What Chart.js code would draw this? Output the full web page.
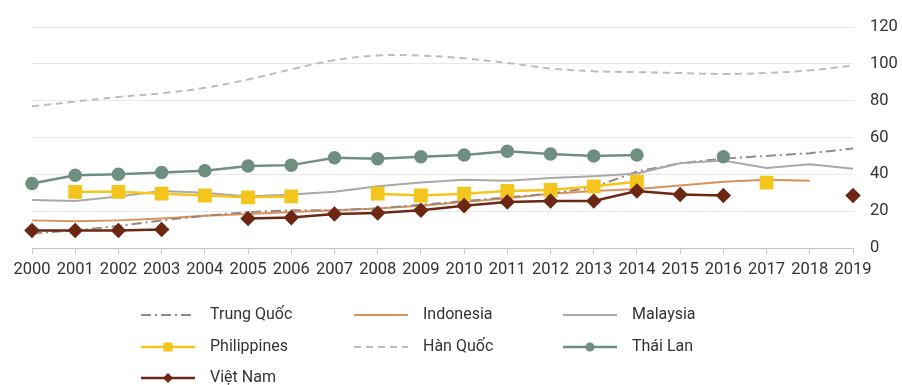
<!DOCTYPE html>
<html>
<head>
<meta charset="utf-8">
<script src="https://cdn.jsdelivr.net/npm/chart.js"></script>
<style>
  body { margin: 0; background: #fff; }
  canvas { display: block; }
</style>
</head>
<body>
<canvas id="chart" width="902" height="385"></canvas>
<script>
const years = ['2000', '2001', '2002', '2003', '2004', '2005', '2006', '2007', '2008', '2009',
               '2010', '2011', '2012', '2013', '2014', '2015', '2016', '2017', '2018', '2019'];

const trungQuoc   = [8, 9.5, 12, 15, 17.5, 19.5, 20.5, 20.5, 21.5, 23.5, 25.5, 27.5, 29.5, 33, 41.5, 46, 48.5, 50, 51.5, 54];
const indonesia   = [15, 14.5, 15, 16, 17.5, 18.5, 19.5, 20.5, 21.5, 23, 25, 27, 29.5, 31, 32, 34, 36, 37, 36.5, null];
const malaysia    = [26, 25.5, 28, 31, 30, 28, 29, 30.5, 33.5, 35.5, 37, 36.5, 38, 39, 40.5, 46, 47.5, 43.5, 45.5, 43];
const philippines = [null, 30.5, 30.5, 29.5, 28.5, 27.5, 28, null, 29.5, 28.5, 29.5, 31, 31.5, 33.5, 36, null, null, 35.5, null, null];
const hanQuoc     = [77, 79.5, 82, 84, 87, 91.5, 97, 102, 104.5, 104.5, 103, 100.5, 97.5, 96, 95.5, 95, 94.5, 95, 96.5, 99];
const thaiLan     = [35, 39.5, 40, 41, 42, 44.5, 45, 49, 48.5, 49.5, 50.5, 52.5, 51, 50, 50.5, null, 49.5, null, null, null];
const vietNam     = [9.5, 9.5, 9.5, 10, null, 16, 16.5, 18.5, 19, 20.5, 23, 25, 25.5, 25.5, 31, 29, 28.5, null, null, 28.5];

const yTicks = [0, 20, 40, 60, 80, 100, 120];

// legend layout: 3 columns
const legendColX = [141, 354, 563];
const legendRowY = [315, 347, 378];

function series(label, data, color, extra) {
    return Object.assign({
        label: label,
        data: data,
        borderColor: color,
        backgroundColor: color,
        borderWidth: 2,
        pointRadius: 0,
        pointHoverRadius: 0,
        pointStyle: false,
        tension: 0,
        spanGaps: false,
        fill: false
    }, extra || {});
}

const datasets = [
    series('Trung Quốc', trungQuoc, '#9a8880', { borderDash: [10, 4, 2, 4], order: 5 }),
    series('Indonesia', indonesia, '#da925c', { order: 6 }),
    series('Malaysia', malaysia, '#a9a9a9', { order: 4 }),
    series('Philippines', philippines, '#f4c51c', { borderWidth: 2.5, pointStyle: 'rect', pointRadius: 8, order: 3 }),
    series('Hàn Quốc', hanQuoc, '#bdbdbd', { borderDash: [7, 5], tension: 0.4, order: 7 }),
    series('Thái Lan', thaiLan, '#6e8f80', { borderWidth: 2.5, pointStyle: 'circle', pointRadius: 5.5, order: 2 }),
    series('Việt Nam', vietNam, '#6d2814', { borderWidth: 2.5, pointStyle: 'rectRot', pointRadius: 6, order: 1 })
];

function drawMarker(ctx, style, x, y, color) {
    ctx.fillStyle = color;
    ctx.beginPath();
    if (style === 'rect') {
        ctx.rect(x - 4.5, y - 4.5, 9, 9);
    } else if (style === 'circle') {
        ctx.arc(x, y, 4.5, 0, Math.PI * 2);
    } else if (style === 'rectRot') {
        ctx.moveTo(x, y - 5);
        ctx.lineTo(x + 5, y);
        ctx.lineTo(x, y + 5);
        ctx.lineTo(x - 5, y);
        ctx.closePath();
    }
    ctx.fill();
}

const gridLegend = {
    id: 'gridLegend',
    afterDraw(chart) {
        const ctx = chart.ctx;
        ctx.save();
        chart.data.datasets.forEach((ds, i) => {
            const x = legendColX[i % 3];
            const y = legendRowY[Math.floor(i / 3)];
            ctx.strokeStyle = ds.borderColor;
            ctx.lineWidth = ds.borderWidth;
            ctx.setLineDash(ds.borderDash || []);
            ctx.beginPath();
            ctx.moveTo(x, y);
            ctx.lineTo(x + 54, y);
            ctx.stroke();
            ctx.setLineDash([]);
            if (ds.pointStyle) drawMarker(ctx, ds.pointStyle, x + 27, y, ds.borderColor);
            ctx.fillStyle = '#333';
            ctx.font = '16px Roboto';
            ctx.textBaseline = 'middle';
            ctx.fillText(ds.label, x + 69, y);
        });
        ctx.restore();
    }
};

new Chart(document.getElementById('chart'), {
    type: 'line',
    data: { labels: years, datasets: datasets },
    options: {
        responsive: false,
        animation: false,
        devicePixelRatio: 1,
        layout: { padding: { left: 32, top: 27, right: 0, bottom: 0 } },
        plugins: {
            legend: { display: false },
            tooltip: { enabled: false }
        },
        scales: {
            x: {
                offset: false,
                grid: {
                    drawOnChartArea: false,
                    drawTicks: true,
                    tickLength: 6,
                    color: '#c4c4c4'
                },
                border: { display: true, color: '#c4c4c4', width: 1 },
                ticks: {
                    color: '#333',
                    font: { family: 'Roboto', size: 16.5 },
                    padding: 6,
                    maxRotation: 0,
                    autoSkip: false
                },
                afterFit(scale) { scale.height = 137; }
            },
            y: {
                position: 'right',
                min: 0,
                max: 120,
                afterBuildTicks(scale) { scale.ticks = yTicks.map(v => ({ value: v })); },
                grid: { color: '#e8e8e8', drawTicks: false },
                border: { display: false },
                ticks: {
                    color: '#333',
                    font: { family: 'Roboto', size: 16.5 },
                    padding: 17
                },
                afterFit(scale) { scale.width = 49; }
            }
        }
    },
    plugins: [gridLegend]
});
</script>
</body>
</html>
